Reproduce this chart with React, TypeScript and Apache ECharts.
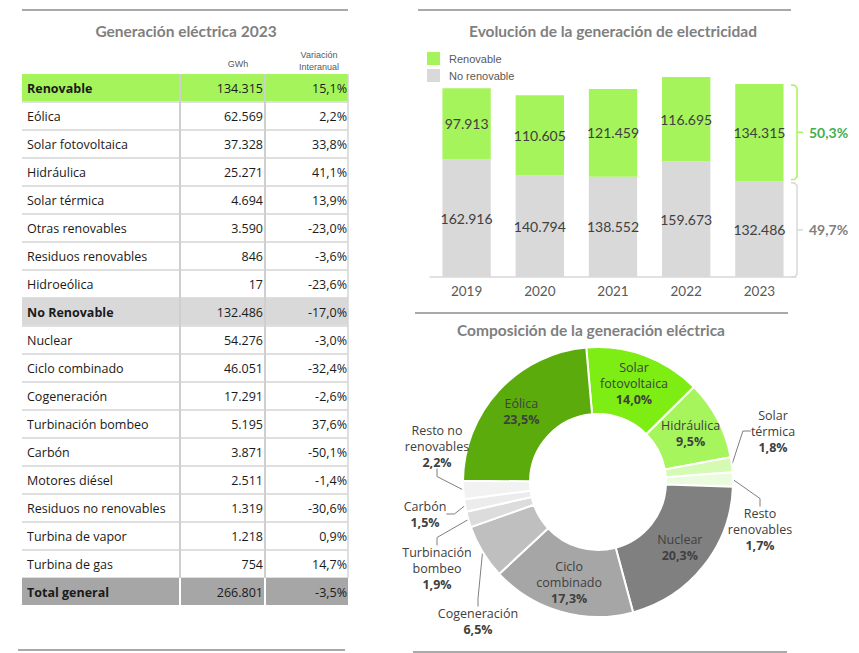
import React, { useEffect, useRef } from "react";
import * as echarts from "echarts";

// ---------- Table data ----------
const tableRows = [
  "Renovable", "Eólica", "Solar fotovoltaica", "Hidráulica", "Solar térmica",
  "Otras renovables", "Residuos renovables", "Hidroeólica", "No Renovable",
  "Nuclear", "Ciclo combinado", "Cogeneración", "Turbinación bombeo", "Carbón",
  "Motores diésel", "Residuos no renovables", "Turbina de vapor", "Turbina de gas",
  "Total general",
];
const tableGwh = [
  134315, 62569, 37328, 25271, 4694, 3590, 846, 17, 132486,
  54276, 46051, 17291, 5195, 3871, 2511, 1319, 1218, 754, 266801,
];
const tableVar = [
  15.1, 2.2, 33.8, 41.1, 13.9, -23.0, -3.6, -23.6, -17.0,
  -3.0, -32.4, -2.6, 37.6, -50.1, -1.4, -30.6, 0.9, 14.7, -3.5,
];
const tableHeaders = ["GWh", "Variación\nInteranual"];
const rowFill: Record<string, string> = {
  "Renovable": "#a6f45c",
  "No Renovable": "#d9d9d9",
  "Total general": "#a6a6a6",
};

// ---------- Bar chart data ----------
const years = ["2019", "2020", "2021", "2022", "2023"];
const renovable = [97913, 110605, 121459, 116695, 134315];
const noRenovable = [162916, 140794, 138552, 159673, 132486];

// ---------- Donut data ----------
const donutNames = [
  "Solar fotovoltaica", "Hidráulica", "Solar térmica", "Resto renovables",
  "Nuclear", "Ciclo combinado", "Cogeneración", "Turbinación bombeo",
  "Carbón", "Resto no renovables", "Eólica",
];
const donutValues = [14.0, 9.5, 1.8, 1.7, 20.3, 17.3, 6.5, 1.9, 1.5, 2.2, 23.5];
const donutColors = [
  "#7ded14", "#a6f55d", "#d4fab4", "#eafcdd", "#808080", "#a6a6a6",
  "#bfbfbf", "#dcdcdc", "#ececec", "#f2f2f2", "#5cab0c",
];
const donutLabelText: Record<string, string> = {
  "Solar fotovoltaica": "Solar\nfotovoltaica",
  "Solar térmica": "Solar\ntérmica",
  "Resto renovables": "Resto\nrenovables",
  "Ciclo combinado": "Ciclo\ncombinado",
  "Turbinación bombeo": "Turbinación\nbombeo",
  "Resto no renovables": "Resto no\nrenovables",
};
const insideLabels = ["Solar fotovoltaica", "Hidráulica", "Nuclear", "Ciclo combinado", "Eólica"];
// label block centres for outside labels (layout)
const outsideLabelPos: Record<string, [number, number]> = {
  "Solar térmica": [773, 431],
  "Resto renovables": [760, 529],
  "Resto no renovables": [437, 446],
  "Carbón": [425, 514],
  "Turbinación bombeo": [437, 568],
  "Cogeneración": [478, 621],
};

const fmtThousands = (v: number) =>
  Math.round(v).toString().replace(/\B(?=(\d{3})+(?!\d))/g, ".");
const fmtPct = (v: number) => v.toFixed(1).replace(".", ",") + "%";

const TXT = "'Open Sans', 'Noto Sans', sans-serif";
const CAL = "Lato, 'Noto Sans', sans-serif";

export default function App() {
  const ref = useRef<HTMLDivElement>(null);

  useEffect(() => {
    if (!ref.current) return;
    const chart = echarts.init(ref.current, undefined, { renderer: "svg" });

    const colSep1 = 158; // px from table left
    const colSep2 = 243;

    const tableSeries = {
      type: "custom",
      xAxisIndex: 0,
      yAxisIndex: 0,
      silent: true,
      clip: false,
      data: tableRows.map((_, i) => [0, i, tableGwh[i], tableVar[i]]),
      renderItem: (params: any, api: any) => {
        const i = api.value(1);
        const name = tableRows[i];
        const cs = params.coordSys;
        const yc = api.coord([0, i])[1];
        const h = api.size([0, 1])[1];
        const top = yc - h / 2;
        const x0 = cs.x;
        const x1 = cs.x + cs.width;
        const c1 = x0 + colSep1;
        const c2 = x0 + colSep2;
        const bold = !!rowFill[name];
        const isTotal = i === tableRows.length - 1;
        const children: any[] = [];
        if (rowFill[name]) {
          children.push({
            type: "rect",
            shape: { x: x0, y: top, width: x1 - x0, height: h - 1 },
            style: { fill: rowFill[name] },
          });
        }
        if (!isTotal) {
          children.push({
            type: "line",
            shape: { x1: x0, y1: top + h, x2: x1, y2: top + h },
            style: { stroke: "#d4d4d4", lineWidth: 1.5 },
          });
        }
        const vcol = isTotal ? "#ffffff" : "#cfcfcf";
        [c1, c2].forEach((cx) =>
          children.push({
            type: "line",
            shape: { x1: cx, y1: top, x2: cx, y2: top + h },
            style: { stroke: vcol, lineWidth: 2 },
          })
        );
        if (!isTotal) {
          children.push({
            type: "line",
            shape: { x1: x1, y1: top, x2: x1, y2: top + h },
            style: { stroke: "#d4d4d4", lineWidth: 1.5 },
          });
        }
        const base = {
          fill: "#1a1a1a",
          fontSize: 12.5,
          fontFamily: TXT,
          fontWeight: bold ? "bold" : "normal",
          verticalAlign: "middle",
          textVerticalAlign: "middle",
        };
        children.push({
          type: "text",
          style: { ...base, text: name, x: x0 + 5, y: yc, align: "left", textAlign: "left" },
        });
        children.push({
          type: "text",
          style: { ...base, fontWeight: "normal", text: fmtThousands(api.value(2)), x: c2 - 2, y: yc, align: "right", textAlign: "right" },
        });
        children.push({
          type: "text",
          style: { ...base, fontWeight: "normal", text: fmtPct(api.value(3)), x: x1 - 1, y: yc, align: "right", textAlign: "right" },
        });
        return { type: "group", children };
      },
    };

    const last = years.length - 1;
    const total = renovable[last] + noRenovable[last];
    const shareRen = (renovable[last] / total) * 100;
    const shareNo = (noRenovable[last] / total) * 100;

    const bracketSeries = {
      type: "custom",
      xAxisIndex: 1,
      yAxisIndex: 1,
      silent: true,
      clip: false,
      data: [[last, total, noRenovable[last]]],
      renderItem: (params: any, api: any) => {
        const idx = api.value(0);
        const [cx, yTop] = api.coord([idx, api.value(1)]);
        const yMid = api.coord([idx, api.value(2)])[1];
        const yBot = api.coord([idx, 0])[1];
        const bx = cx + api.size([1, 0])[0] / 2 + 1;
        const mk = (t: number, b: number, color: string, label: string, tcolor: string) => {
          const m = (t + b) / 2;
          return [
            {
              type: "polyline",
              shape: { points: [[bx - 6, t], [bx - 2, t + 0.5], [bx, t + 3], [bx, b - 3], [bx - 2, b - 0.5], [bx - 6, b]] },
              style: { stroke: color, lineWidth: 1.5, fill: "none" },
            },
            {
              type: "line",
              shape: { x1: bx, y1: m, x2: bx + 6, y2: m },
              style: { stroke: color, lineWidth: 1.5 },
            },
            {
              type: "text",
              style: {
                text: label, x: bx + 12, y: m, fill: tcolor, fontSize: 14, fontWeight: "bold",
                fontFamily: CAL, align: "left", textAlign: "left", verticalAlign: "middle", textVerticalAlign: "middle",
              },
            },
          ];
        };
        return {
          type: "group",
          children: [
            ...mk(yTop + 1, yMid - 1.5, "#a6f45c", fmtPct(shareRen), "#3fb04e"),
            ...mk(yMid + 1.5, yBot, "#d9d9d9", fmtPct(shareNo), "#7f7f7f"),
          ],
        };
      },
    };

    const lineStyle = { stroke: "#8c8c8c", lineWidth: 1.5 };
    const titleStyle = (text: string) => ({
      text, fill: "#7f7f7f", fontSize: 15.5, fontWeight: "bold", fontFamily: CAL,
      align: "center", textAlign: "center", verticalAlign: "middle", textVerticalAlign: "middle",
    });
    const smallStyle = (text: string) => ({
      text, fill: "#595959", fontSize: 9, fontFamily: "'Liberation Sans', Arial, sans-serif",
      align: "center", textAlign: "center", verticalAlign: "middle", textVerticalAlign: "middle", lineHeight: 12,
    });

    const option: any = {
      animation: false,
      backgroundColor: "#ffffff",
      graphic: [
        { type: "line", shape: { x1: 22, y1: 10, x2: 348, y2: 10 }, style: lineStyle },
        { type: "line", shape: { x1: 18, y1: 650, x2: 345, y2: 650 }, style: lineStyle },
        { type: "line", shape: { x1: 418, y1: 10, x2: 791, y2: 10 }, style: lineStyle },
        { type: "line", shape: { x1: 415, y1: 313, x2: 788, y2: 313 }, style: lineStyle },
        { type: "line", shape: { x1: 413, y1: 652, x2: 787, y2: 652 }, style: lineStyle },
        { type: "text", x: 186, y: 31, style: titleStyle("Generación eléctrica 2023") },
        { type: "text", x: 613, y: 31, style: titleStyle("Evolución de la generación de electricidad") },
        { type: "text", x: 591, y: 330, style: titleStyle("Composición de la generación eléctrica") },
        { type: "text", x: 238, y: 64, style: smallStyle(tableHeaders[0]) },
        { type: "text", x: 319, y: 61, style: smallStyle(tableHeaders[1]) },
      ],
      legend: {
        data: ["Renovable", "No renovable"],
        orient: "vertical",
        left: 422,
        top: 47,
        itemWidth: 13,
        itemHeight: 13,
        itemGap: 4,
        icon: "rect",
        selectedMode: false,
        textStyle: {
          color: "#595959", fontSize: 11, fontFamily: "'Liberation Sans', Arial, sans-serif",
          padding: [0, 0, 0, 4],
        },
      },
      grid: [
        { left: 22, top: 74, width: 326, height: 532 },
        { left: 430, top: 60, width: 366, height: 217 },
      ],
      xAxis: [
        { gridIndex: 0, type: "value", min: 0, max: 1, show: false },
        {
          gridIndex: 1,
          type: "category",
          data: years,
          axisLine: { lineStyle: { color: "#d9d9d9", width: 1.5 } },
          axisTick: { show: false },
          axisLabel: { color: "#595959", fontSize: 13.5, fontFamily: CAL, margin: 7 },
        },
      ],
      yAxis: [
        { gridIndex: 0, type: "category", data: tableRows, inverse: true, show: false },
        { gridIndex: 1, type: "value", min: 0, max: 300000, show: false },
      ],
      series: [
        tableSeries,
        {
          name: "No renovable",
          type: "bar",
          xAxisIndex: 1,
          yAxisIndex: 1,
          stack: "total",
          barWidth: "66%",
          data: noRenovable,
          itemStyle: { color: "#d9d9d9" },
          label: {
            show: true, position: "inside", color: "#404040", fontSize: 14, fontFamily: CAL,
            formatter: (p: any) => fmtThousands(p.value),
          },
        },
        {
          name: "Renovable",
          type: "bar",
          xAxisIndex: 1,
          yAxisIndex: 1,
          stack: "total",
          barWidth: "66%",
          data: renovable,
          itemStyle: { color: "#a6f45c" },
          label: {
            show: true, position: "inside", color: "#404040", fontSize: 14, fontFamily: CAL,
            formatter: (p: any) => fmtThousands(p.value),
          },
        },
        bracketSeries,
        {
          type: "pie",
          center: [598, 482],
          radius: [68, 135],
          startAngle: 95,
          clockwise: true,
          avoidLabelOverlap: false,
          silent: true,
          itemStyle: { borderColor: "#ffffff", borderWidth: 2 },
          label: {
            show: true,
            position: "outside",
            formatter: (p: any) =>
              `{n|${donutLabelText[p.name] || p.name}}\n{b|${fmtPct(p.value)}}`,
            rich: {
              n: { fontSize: 12.5, color: "#404040", fontFamily: TXT, lineHeight: 16, align: "center" },
              b: { fontSize: 12.5, color: "#404040", fontFamily: TXT, fontWeight: "bold", lineHeight: 16, align: "center" },
            },
          },
          labelLine: { show: true, length: 8, length2: 8, lineStyle: { color: "#7f7f7f", width: 1 } },
          labelLayout: (params: any) => {
            const name = donutNames[params.dataIndex];
            const pos = outsideLabelPos[name];
            if (!pos) return {};
            return { x: pos[0], y: pos[1], align: "center", verticalAlign: "middle" };
          },
          data: donutNames.map((name, i) => {
            const inside = insideLabels.includes(name);
            return {
              name,
              value: donutValues[i],
              itemStyle: { color: donutColors[i] },
              label: inside ? { position: "inside" } : { position: "outside" },
              labelLine: { show: !inside },
            };
          }),
        },
      ],
    };

    chart.setOption(option);
    return () => chart.dispose();
  }, []);

  return (
    <div
      ref={ref}
      style={{ position: "fixed", left: 0, top: 0, width: 859, height: 653, background: "#fff" }}
    />
  );
}
